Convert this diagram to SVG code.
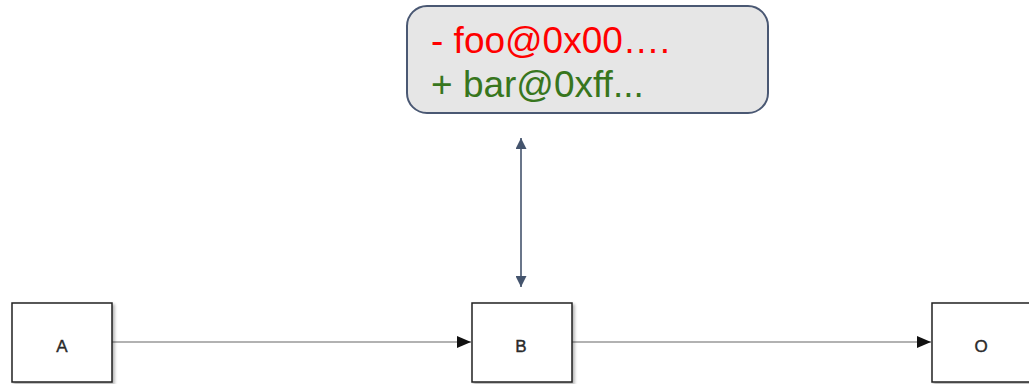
<svg xmlns="http://www.w3.org/2000/svg" width="1029" height="384" viewBox="0 0 1029 384">
  <defs>
    <marker id="tri" viewBox="0 0 14 12" refX="14" refY="6" markerWidth="14" markerHeight="12" markerUnits="userSpaceOnUse" orient="auto">
      <path d="M0,0 L14,6 L0,12 Z" fill="#111"/>
    </marker>
    <marker id="slate" viewBox="0 0 11 11" refX="11" refY="5.5" markerWidth="11" markerHeight="11" markerUnits="userSpaceOnUse" orient="auto-start-reverse">
      <path d="M0,0 L11,5.5 L0,11 Z" fill="#44546d"/>
    </marker>
    <filter id="shadow" x="-10%" y="-10%" width="130%" height="130%">
      <feGaussianBlur in="SourceAlpha" stdDeviation="1.5"/>
      <feOffset dx="2" dy="2"/>
      <feComponentTransfer><feFuncA type="linear" slope="0.3"/></feComponentTransfer>
      <feMerge><feMergeNode/><feMergeNode in="SourceGraphic"/></feMerge>
    </filter>
  </defs>
  <style>
    .box { fill: #ffffff; stroke: #222222; stroke-width: 1.5; filter: url(#shadow); }
    .lbl { font-family: "Liberation Sans", Arial, sans-serif; font-size: 17px; fill: #2a2a2a; stroke: #2a2a2a; stroke-width: 0.4; text-anchor: middle; }
    .flow { stroke: #666666; stroke-width: 1.2; fill: none; marker-end: url(#tri); }
    .link { stroke: #44546d; stroke-width: 1.6; fill: none; marker-start: url(#slate); marker-end: url(#slate); }
    .note { fill: #e6e6e6; stroke: #4a5873; stroke-width: 2; }
    .diff { font-family: "Liberation Sans", Arial, sans-serif; font-size: 37px; }
  </style>

  <g id="connectors">
    <line class="flow" x1="112" y1="342" x2="471" y2="342"/>
    <line class="flow" x1="572" y1="342" x2="931" y2="342"/>
    <line class="link" x1="521" y1="138" x2="521" y2="287"/>
  </g>

  <g id="note">
    <rect class="note" x="407" y="6" width="361" height="107" rx="20" ry="20"/>
    <text class="diff" x="431" y="53" fill="#ff0000">- foo@0x00….</text>
    <text class="diff" x="431" y="97" fill="#38761d">+ bar@0xff...</text>
  </g>

  <g id="node-a">
    <rect class="box" x="12" y="303" width="100" height="79"/>
    <text class="lbl" x="62" y="352">A</text>
  </g>

  <g id="node-b">
    <rect class="box" x="472" y="303" width="100" height="79"/>
    <text class="lbl" x="521" y="352">B</text>
  </g>

  <g id="node-o">
    <rect class="box" x="932" y="303" width="100" height="79"/>
    <text class="lbl" x="981" y="352">O</text>
  </g>
</svg>
